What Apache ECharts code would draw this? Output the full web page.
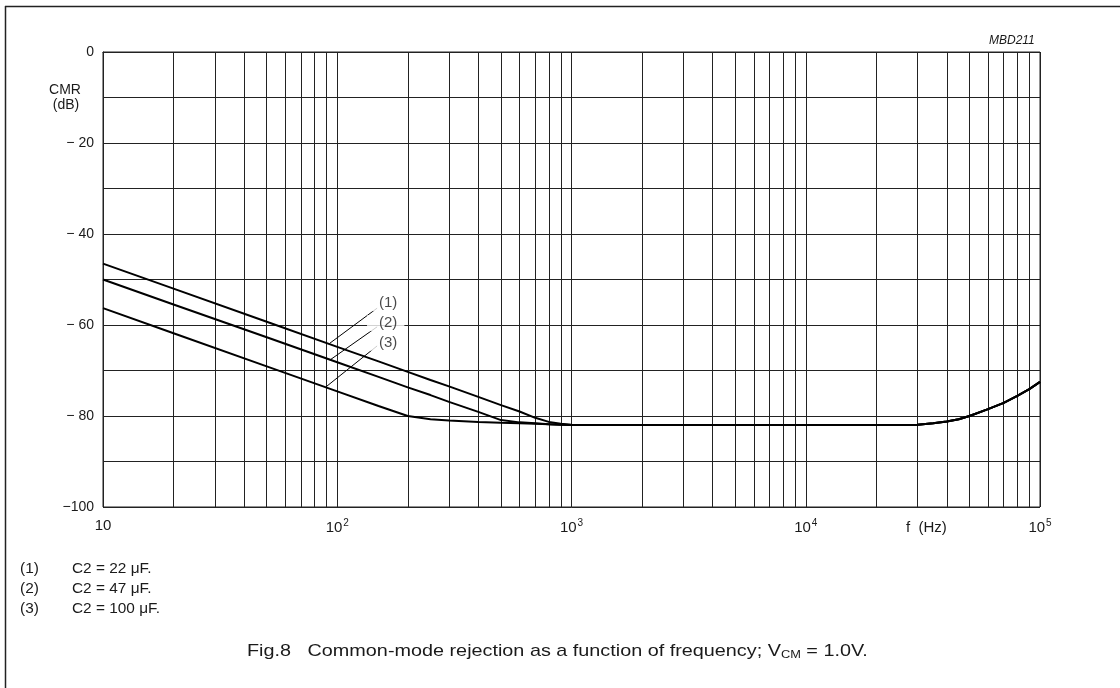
<!DOCTYPE html>
<html>
<head>
<meta charset="utf-8">
<script src="https://cdn.jsdelivr.net/npm/echarts@6/dist/echarts.min.js"></script>
<style>html,body{margin:0;padding:0;background:#fff}#c{width:1120px;height:688px}</style>
</head>
<body>
<div id="c"></div>
<script>
// ---- data ----
var freqs = [10, 20, 50, 100, 150, 200, 250, 300, 400, 500, 600, 700, 800, 900, 1000, 1200, 2000, 5000, 10000, 20000, 25000, 30000, 35000, 40000, 45000, 50000, 60000, 70000, 80000, 90000, 100000];
var cmr1 = [-46.5, -52.0, -59.3, -64.8, -68.0, -70.3, -72.1, -73.5, -75.8, -77.6, -79.0, -80.4, -81.3, -81.7, -81.9, -82.0, -82, -82, -82, -82, -82, -81.9, -81.6, -81.2, -80.7, -80.0, -78.5, -77.1, -75.6, -74.1, -72.5];
var cmr2 = [-50.0, -55.5, -62.7, -68.2, -71.4, -73.7, -75.4, -76.9, -79.1, -80.9, -81.4, -81.6, -81.8, -81.9, -82.0, -82.0, -82, -82, -82, -82, -82, -81.9, -81.6, -81.2, -80.7, -80.0, -78.5, -77.1, -75.6, -74.1, -72.5];
var cmr3 = [-56.3, -61.8, -69.1, -74.6, -77.8, -80.0, -80.7, -81.0, -81.3, -81.5, -81.6, -81.7, -81.8, -81.9, -82.0, -82.0, -82, -82, -82, -82, -82, -81.9, -81.6, -81.2, -80.7, -80.0, -78.5, -77.1, -75.6, -74.1, -72.5];
var curveTags = ['(1)', '(2)', '(3)'];
var legendTexts = ['C2 = 22 \u03bcF.', 'C2 = 47 \u03bcF.', 'C2 = 100 \u03bcF.'];
var tagPos = [[134, -55.2], [134, -59.6], [134, -63.9]];
var leaderStart = [[148, -56.3], [148, -60.4], [148, -64.6]];
var leaderEnd = [[93, -64.0], [93, -67.7], [89, -73.7]];
var yTicks = [0, -20, -40, -60, -80, -100];

// minor log gridlines 2..9 x 10^n
var minorGrid = [];
for (var d = 10; d < 100000; d *= 10) {
  for (var k = 2; k <= 9; k++) minorGrid.push(k * d);
}
function pairs(ys) { return freqs.map(function (f, i) { return [f, ys[i]]; }); }

var FONT = '"Liberation Sans", Arial, sans-serif';
var ink = '#1a1a1a';
var chart = echarts.init(document.getElementById('c'), null, { renderer: 'canvas' });

var lineStyle = { color: '#000', width: 2 };
function txt(x, y, s, size, sx, extra) {
  var st = { text: s, font: size + 'px ' + FONT, fill: ink, verticalAlign: 'middle' };
  if (extra) for (var k in extra) st[k] = extra[k];
  return { type: 'text', x: x, y: y, scaleX: sx || 1, style: st };
}

var option = {
  animation: false,
  backgroundColor: '#fff',
  textStyle: { fontFamily: FONT },
  grid: { left: 103, right: 80, top: 52, bottom: 181, show: true, borderColor: '#222', borderWidth: 1, backgroundColor: 'transparent' },
  xAxis: {
    type: 'log', min: 10, max: 100000, logBase: 10,
    axisLine: { show: true, lineStyle: { color: '#222', width: 1 } },
    axisTick: { show: false },
    splitLine: { show: true, lineStyle: { color: '#222', width: 1 } },
    axisLabel: {
      margin: 11, color: ink, fontFamily: FONT, fontSize: 15,
      formatter: function (v) {
        var e = Math.round(Math.log10(v));
        if (e === 1) return '{b|10}';
        return '{b|10}{s|' + e + '}';
      },
      rich: {
        b: { fontSize: 15, fontFamily: FONT, color: ink },
        s: { fontSize: 10, fontFamily: FONT, color: ink, padding: [0, 0, 10, 1] }
      }
    }
  },
  yAxis: {
    type: 'value', min: -100, max: 0, interval: 10,
    axisLine: { show: true, lineStyle: { color: '#222' } },
    axisTick: { show: false },
    splitLine: { show: true, lineStyle: { color: '#222', width: 1 } },
    axisLabel: {
      margin: 9, color: ink, fontFamily: FONT, fontSize: 14,
      formatter: function (v) {
        if (yTicks.indexOf(v) < 0) return '';
        if (v === 0) return '0';
        if (v === -100) return '\u2212100';
        return '\u2212 ' + Math.abs(v);
      }
    }
  },
  series: [
    {
      type: 'line', data: pairs(cmr3), showSymbol: false, lineStyle: lineStyle, z: 5, silent: true,
      markLine: {
        silent: true, symbol: ['none', 'none'], label: { show: false },
        lineStyle: { color: '#222', width: 1, type: 'solid' },
        emphasis: { disabled: true },
        data: minorGrid.map(function (v) { return { xAxis: v }; })
      }
    },
    { type: 'line', data: pairs(cmr2), showSymbol: false, lineStyle: lineStyle, z: 5, silent: true },
    { type: 'line', data: pairs(cmr1), showSymbol: false, lineStyle: lineStyle, z: 5, silent: true },
    {
      type: 'scatter', symbolSize: 0, z: 6, silent: true,
      data: tagPos.map(function (p, i) { return { value: p, name: curveTags[i] }; }),
      label: {
        show: true, position: 'right', distance: 0,
        formatter: function (p) { return p.name; },
        fontFamily: FONT, fontSize: 15, color: ink,
        backgroundColor: '#fff', padding: [1, 7, 0, 12]
      }
    },
    {
      type: 'line', data: [], z: 7, silent: true,
      markLine: {
        silent: true, symbol: ['none', 'none'], label: { show: false },
        lineStyle: { color: '#000', width: 1, type: 'solid' },
        emphasis: { disabled: true },
        data: leaderStart.map(function (s, i) { return [{ coord: s }, { coord: leaderEnd[i] }]; })
      }
    }
  ],
  graphic: [
    { type: 'line', shape: { x1: 5.5, y1: 6, x2: 5.5, y2: 688 }, style: { stroke: '#222', lineWidth: 1.5 } },
    { type: 'line', shape: { x1: 5, y1: 6.5, x2: 1120, y2: 6.5 }, style: { stroke: '#222', lineWidth: 1.5 } },
    { type: 'text', x: 989, y: 41, style: { text: 'MBD211', font: 'italic 12px ' + FONT, fill: ink, verticalAlign: 'middle' } },
    txt(65, 90, 'CMR', 14, 1, { align: 'center' }),
    txt(66, 105, '(dB)', 14, 1, { align: 'center' }),
    txt(906, 528, 'f  (Hz)', 15, 1),
    txt(20, 569, curveTags[0], 14, 1.1),
    txt(20, 589, curveTags[1], 14, 1.1),
    txt(20, 609, curveTags[2], 14, 1.1),
    txt(72, 569, legendTexts[0], 14, 1.1),
    txt(72, 589, legendTexts[1], 14, 1.1),
    txt(72, 609, legendTexts[2], 14, 1.1),
    {
      type: 'text', x: 247, y: 651, scaleX: 1.165,
      style: {
        text: '{m|Fig.8   Common-mode rejection as a function of frequency; V}{s|CM}{m| = 1.0V.}',
        verticalAlign: 'middle',
        rich: {
          m: { fill: ink, fontSize: 17, fontFamily: FONT },
          s: { fill: ink, fontSize: 11, fontFamily: FONT, padding: [8, 0, 0, 0] }
        }
      }
    }
  ]
};
chart.setOption(option);
</script>
</body>
</html>
